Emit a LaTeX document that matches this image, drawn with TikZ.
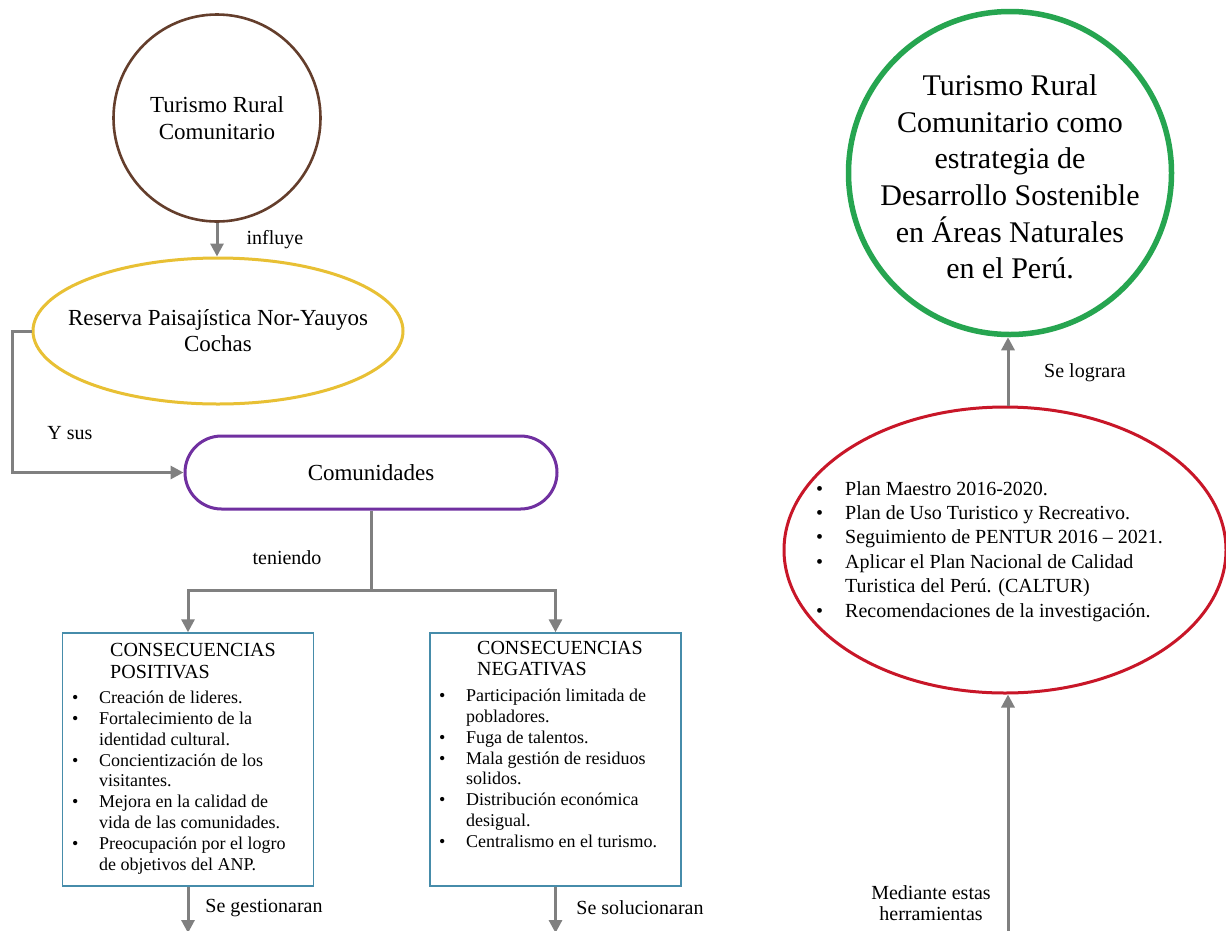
\documentclass[tikz,border=0pt]{standalone}
\usepackage{fontspec}
\setmainfont{Liberation Serif}
\usetikzlibrary{shapes.geometric,shapes.misc,arrows.meta,calc}
\definecolor{brownc}{RGB}{100,62,44}
\definecolor{yellowc}{RGB}{232,192,52}
\definecolor{purplec}{RGB}{112,48,160}
\definecolor{greenc}{RGB}{38,165,80}
\definecolor{redc}{RGB}{200,22,40}
\definecolor{boxc}{RGB}{70,140,170}
\definecolor{grayc}{RGB}{128,128,128}
\newcommand{\cbfont}{\fontsize{18}{20.8}\selectfont}
\newcommand{\cbhead}[1]{\hspace*{38pt}{\fontsize{20}{20.8}\selectfont #1}}
\newcommand{\cbul}{\makebox[27pt][l]{\textbullet}}
\newcommand{\rbul}{\makebox[29pt][l]{\textbullet}}
\begin{document}
\begin{tikzpicture}[x=1pt,y=-1pt,
  conn/.style={draw=grayc, line width=3pt},
  arr/.style={conn, -{Triangle[length=13pt,width=13pt]}},
  lbl/.style={font=\fontsize{20}{22}\selectfont, inner sep=0pt, align=center},
  conbox/.style={draw=boxc, line width=1.4pt, minimum width=251pt, minimum height=253pt, inner sep=0pt},
  boxtext/.style={anchor=base west, inner sep=0pt, font=\cbfont},
  intext/.style={inner sep=0pt, align=center},
]
\useasboundingbox[fill=white] (0,0) rectangle (1226,930);

% top-left circle
\node[circle, draw=brownc, line width=2.6pt, minimum size=207pt, inner sep=0pt] (trc) at (217,118) {};
\node[intext, font=\fontsize{23}{27}\selectfont] (trcT) at (217,118) {Turismo Rural\\Comunitario};

% yellow ellipse
\node[ellipse, draw=yellowc, line width=3pt, minimum width=370pt, minimum height=146pt,
      inner sep=0pt] (rpn) at (218,331) {};
\node[intext, font=\fontsize{23}{26}\selectfont] (rpnT) at (218,331) {Reserva Paisajística Nor-Yauyos\\Cochas};

% Comunidades
\node[rounded rectangle, draw=purplec, line width=3pt, minimum width=372pt,
      minimum height=73pt, inner sep=0pt, font=\fontsize{23}{27}\selectfont] (com) at (371,472.5)
      {Comunidades};

% consequence boxes
\node[conbox] (pos) at (188,759.5) {};
\node[conbox] (neg) at (555.5,759.5) {};

\node[boxtext] (posT) at (72,656) {\begin{tabular}[t]{@{}l@{}}
\cbhead{CONSECUENCIAS}\\[2pt]
\cbhead{POSITIVAS}\\[4pt]
\cbul Creación de lideres.\\
\cbul Fortalecimiento de la\\
\hspace*{27pt}identidad cultural.\\
\cbul Concientización de los\\
\hspace*{27pt}visitantes.\\
\cbul Mejora en la calidad de\\
\hspace*{27pt}vida de las comunidades.\\
\cbul Preocupación por el logro\\
\hspace*{27pt}de objetivos del ANP.
\end{tabular}};

\node[boxtext] (negT) at (439,654) {\begin{tabular}[t]{@{}l@{}}
\cbhead{CONSECUENCIAS}\\[1pt]
\cbhead{NEGATIVAS}\\[5pt]
\cbul Participación limitada de\\
\hspace*{27pt}pobladores.\\
\cbul Fuga de talentos.\\
\cbul Mala gestión de residuos\\
\hspace*{27pt}solidos.\\
\cbul Distribución económica\\
\hspace*{27pt}desigual.\\
\cbul Centralismo en el turismo.
\end{tabular}};

% goal circle
\node[circle, draw=greenc, line width=5.5pt, minimum size=323pt, inner sep=0pt] (goal) at (1010,173) {};
\node[intext, font=\fontsize{30}{36.6}\selectfont] (goalT) at (1010,177)
      {Turismo Rural\\Comunitario como\\estrategia de\\Desarrollo Sostenible\\en Áreas Naturales\\en el Perú.};

% tools ellipse
\node[ellipse, draw=redc, line width=3pt, minimum width=442pt, minimum height=286pt,
      inner sep=0pt] (tools) at (1005,550) {};
\node[anchor=base west, inner sep=0pt, font=\fontsize{20}{24.4}\selectfont] (toolsT) at (816,495)
{\begin{tabular}[t]{@{}l@{}}
\rbul Plan Maestro 2016-2020.\\
\rbul Plan de Uso Turistico y Recreativo.\\
\rbul Seguimiento de PENTUR 2016 – 2021.\\
\rbul Aplicar el Plan Nacional de Calidad\\
\hspace*{29pt}Turistica del Perú. (CALTUR)\\
\rbul Recomendaciones de la investigación.
\end{tabular}};

% labels
\node[lbl] (l1) at (275,240) {influye};
\node[lbl] (l2) at (70,433) {Y sus};
\node[lbl] (l3) at (287,558) {teniendo};
\node[lbl] (l4) at (264,908) {Se gestionaran};
\node[lbl] (l5) at (640,908) {Se solucionaran};
\node[lbl] (l6) at (1085,373) {Se lograra};
\node[lbl, font=\fontsize{20}{21.5}\selectfont] (l7) at (931,903) {Mediante estas\\herramientas};

% connectors
\draw[arr] (trc.south) -- (trc.south |- rpn.north);
\draw[arr] (rpn.west) -- ++(-19,0) |- (com.west);
\coordinate (split) at (371,590);
\draw[conn] (com.south) -- (split);
\draw[arr] (split) -| (pos.north);
\draw[arr] (split) -| (neg.north);
\coordinate (posEnd) at (188,933);
\coordinate (negEnd) at (555.5,933);
\draw[arr] (pos.south) -- (posEnd);
\draw[arr] (neg.south) -- (negEnd);
\coordinate (toolsStart) at (1008,935);
\draw[arr] (toolsStart) -- (toolsStart |- tools.south);
\draw[arr] (tools.north -| toolsStart) -- (toolsStart |- goal.south);
\end{tikzpicture}
\end{document}
